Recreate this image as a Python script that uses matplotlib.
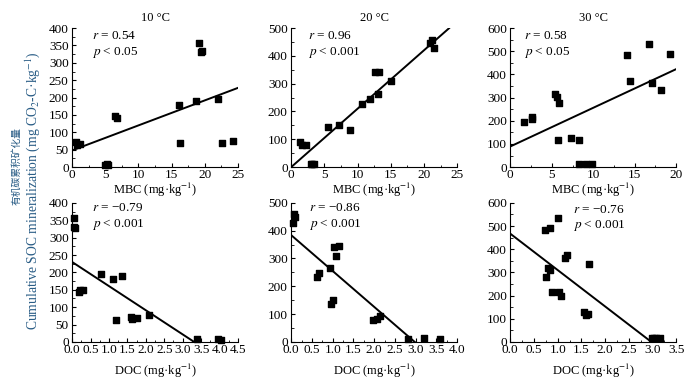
import matplotlib
matplotlib.use("Agg")
import matplotlib.pyplot as plt
from matplotlib.ticker import MultipleLocator

plt.rcParams["font.family"] = ["Liberation Serif", "DejaVu Serif"]
plt.rcParams["mathtext.fontset"] = "stix"

TEMPS = ["10 °C", "20 °C", "30 °C"]

# MBC (mg/kg) vs cumulative SOC mineralization, one list pair per temperature
mbc_10 = [0.6, 0.8, 1.2, 4.9, 5.2, 5.4, 6.5, 6.75, 16.15, 16.25, 18.65, 19.1, 19.4, 19.6, 22.05, 22.6, 24.25]
cum_mbc_10 = [72, 65, 67, 7, 8, 7, 148, 142, 179, 68, 189, 357, 331, 335, 196, 69, 75]
mbc_20 = [1.4, 1.7, 2.2, 3.0, 3.5, 3.2, 5.6, 7.2, 8.8, 10.6, 11.8, 12.6, 13.2, 13.1, 15.1, 20.9, 21.2, 21.5]
cum_mbc_20 = [89, 79, 79, 12, 10, 12, 146, 150, 134, 227, 245, 341, 343, 263, 311, 448, 458, 427]
mbc_30 = [1.7, 2.6, 2.67, 5.33, 5.58, 5.86, 5.74, 7.27, 8.32, 8.32, 9.1, 9.8, 14.1, 14.4, 16.7, 17.1, 18.2, 19.3]
cum_mbc_30 = [193, 215, 208, 314, 304, 278, 115, 127, 115, 13, 14, 14, 486, 372, 533, 361, 332, 490]

# DOC (mg/kg) vs cumulative SOC mineralization
doc_10 = [0.06, 0.06, 0.09, 0.19, 0.22, 0.29, 0.79, 1.10, 1.19, 1.35, 1.59, 1.63, 1.76, 2.08, 3.40, 3.95, 4.03]
cum_doc_10 = [357, 331, 328, 144, 149, 149, 194, 180, 62, 189, 72, 66, 69, 76, 8, 8, 6]
doc_20 = [0.04, 0.06, 0.09, 0.63, 0.67, 0.93, 0.97, 1.0, 1.04, 1.16, 1.09, 1.98, 2.06, 2.15, 2.81, 3.20, 3.59]
cum_doc_20 = [429, 459, 450, 234, 249, 266, 138, 152, 342, 344, 309, 80, 83, 92, 11, 14, 12]
doc_30 = [0.73, 0.83, 1.0, 0.75, 0.79, 0.83, 0.89, 1.02, 1.08, 1.16, 1.19, 1.65, 1.55, 1.60, 1.63, 2.98, 3.03, 3.08, 3.16]
cum_doc_30 = [485, 492, 535, 280, 317, 309, 217, 214, 197, 363, 375, 337, 129, 116, 119, 16, 16, 16, 16]

# fitted lines: (intercept, slope)
fit_mbc = [(48, 7.2), (0, 21.0), (89, 16.7)]
fit_doc = [(230, -69.5), (384, -129.0), (467, -157.0)]
fit_mbc_range = [(0, 25), (0, 23.8), (0, 20)]
fit_doc_range = [(0, 3.31), (0, 2.98), (0, 2.97)]

stats_mbc = [("0.54", "0.05"), ("0.96", "0.001"), ("0.58", "0.05")]
stats_doc = [("\u22120.79", "0.001"), ("\u22120.86", "0.001"), ("\u22120.76", "0.001")]

mbc_xlim = [(25, 5), (25, 5), (20, 5)]
doc_xlim = [(4.5, 0.5), (4.0, 0.5), (3.5, 0.5)]
ylims = [(400, 50), (500, 100), (600, 100)]

TEXT_COLOR = "#2a5d86"
FS = 9

fig = plt.figure(figsize=(7.0, 3.85), dpi=100)
lefts = [0.103, 0.416, 0.729]
width = 0.237


def style_axes(ax, xmax, xstep, ymax, ystep):
    ax.set_xlim(0, xmax)
    ax.set_ylim(0, ymax)
    ax.spines["top"].set_visible(False)
    ax.spines["right"].set_visible(False)
    ax.xaxis.set_major_locator(MultipleLocator(xstep))
    ax.xaxis.set_minor_locator(MultipleLocator(xstep / 2))
    ax.yaxis.set_major_locator(MultipleLocator(ystep))
    ax.yaxis.set_minor_locator(MultipleLocator(ystep / 2))
    ax.tick_params(which="both", direction="in", labelsize=FS + 0.5)
    ax.tick_params(axis="x", pad=1.5)
    ax.tick_params(axis="y", pad=2.5)
    ax.tick_params(which="major", length=3)
    ax.tick_params(which="minor", length=1.8)


def panel(ax, x, y, fit, frange, stats, text_pos):
    ax.scatter(x, y, marker="s", s=20, color="black", zorder=3, clip_on=False)
    b, m = fit
    xs = list(frange)
    ax.plot(xs, [b + m * v for v in xs], color="black", lw=1.4, zorder=2)
    tx, ty = text_pos
    ax.text(tx, ty, "$r$ = %s" % stats[0], transform=ax.transAxes, fontsize=FS + 0.5,
            va="center")
    ax.text(tx, ty - 0.115, "$p$ < %s" % stats[1], transform=ax.transAxes,
            fontsize=FS + 0.5, va="center")


mbc_x = [mbc_10, mbc_20, mbc_30]
mbc_y = [cum_mbc_10, cum_mbc_20, cum_mbc_30]
doc_x = [doc_10, doc_20, doc_30]
doc_y = [cum_doc_10, cum_doc_20, cum_doc_30]
top_pos = [(0.12, 0.94), (0.10, 0.94), (0.085, 0.94)]
bot_pos = [(0.12, 0.96), (0.11, 0.96), (0.38, 0.95)]

for i in range(3):
    ax = fig.add_axes([lefts[i], 0.566, width, 0.361])
    style_axes(ax, mbc_xlim[i][0], mbc_xlim[i][1], ylims[i][0], ylims[i][1])
    panel(ax, mbc_x[i], mbc_y[i], fit_mbc[i], fit_mbc_range[i], stats_mbc[i], top_pos[i])
    ax.set_title(TEMPS[i], fontsize=FS, pad=5)
    ax.set_xlabel("MBC (mg·kg$^{-1}$)", fontsize=FS, labelpad=0)

    ax = fig.add_axes([lefts[i], 0.112, width, 0.361])
    style_axes(ax, doc_xlim[i][0], doc_xlim[i][1], ylims[i][0], ylims[i][1])
    panel(ax, doc_x[i], doc_y[i], fit_doc[i], fit_doc_range[i], stats_doc[i], bot_pos[i])
    ax.set_xlabel("DOC (mg·kg$^{-1}$)", fontsize=FS, labelpad=4)

fig.text(0.024, 0.568, "有机碳累积矿化量", rotation=90, ha="center", va="center",
         color=TEXT_COLOR, fontsize=7, family=["Noto Sans CJK SC", "DejaVu Sans"])
fig.text(0.047, 0.505, "Cumulative SOC mineralization (mg CO$_2$-C·kg$^{-1}$)",
         rotation=90, ha="center", va="center", color=TEXT_COLOR, fontsize=FS + 0.8)

fig.savefig("out.png", dpi=100)
